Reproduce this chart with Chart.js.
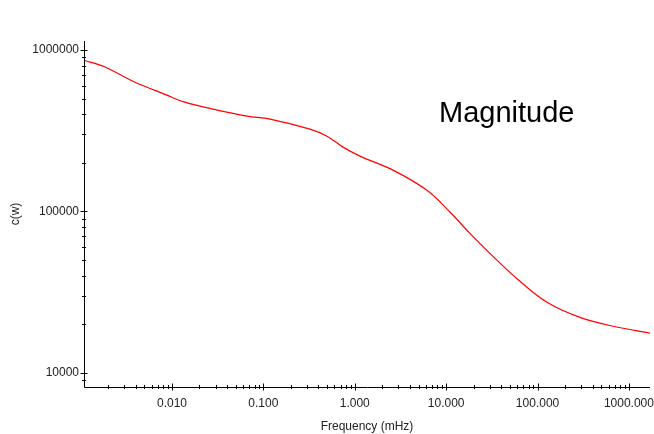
<!DOCTYPE html>
<html>
<head>
<meta charset="utf-8">
<script src="https://cdn.jsdelivr.net/npm/chart.js@4/dist/chart.umd.min.js"></script>
<style>
    html, body { margin: 0; padding: 0; background: #fff; }
    canvas { display: block; }
</style>
</head>
<body>
<canvas id="chart" width="654" height="434"></canvas>
<script>
// frequency in mHz and magnitude c(w)
const frequency = [0.00109, 0.0018, 0.00384, 0.00881, 0.0135, 0.0281, 0.0662, 0.118, 0.324, 0.497, 0.743,
    1.14, 2.62, 6.17, 11.0, 18.2, 30.1, 61.0, 127, 291, 668, 1700];
const magnitude = [861000, 790000, 635000, 525000, 477000, 430000, 389000, 373000, 323000, 292000, 250000,
    220000, 180000, 135000, 99100, 73000, 54900, 37800, 27300, 22000, 19400, 17600];

const xDecades = [0.01, 0.1, 1, 10, 100, 1000];
const yDecades = [10000, 100000, 1000000];

const plotTitle = 'Magnitude';

function isDecade(list, v) {
    return list.some(d => Math.abs(v - d) / d < 1e-6);
}

// minor ticks only at 1..9 x 10^n, not at the axis ends
function isNice(v) {
    const m = v / Math.pow(10, Math.floor(Math.log10(v) + 1e-9));
    return Math.abs(m - Math.round(m)) < 1e-6;
}

// axis lines with ticks crossing them
const axesPlugin = {
    id: 'axes',
    afterDraw(chart) {
        const { ctx, chartArea } = chart;
        const xs = chart.scales.x, ys = chart.scales.y;
        ctx.save();
        ctx.strokeStyle = '#000';
        ctx.lineWidth = 1;
        ctx.beginPath();
        ctx.moveTo(chartArea.left + 0.5, chartArea.top);
        ctx.lineTo(chartArea.left + 0.5, chartArea.bottom + 0.5);
        ctx.lineTo(chartArea.right, chartArea.bottom + 0.5);
        xs.ticks.forEach(t => {
            if (!isNice(t.value)) return;
            const px = Math.round(xs.getPixelForValue(t.value)) + 0.5;
            const len = isDecade(xDecades, t.value) ? 3.5 : 2;
            ctx.moveTo(px, chartArea.bottom - len);
            ctx.lineTo(px, chartArea.bottom + len);
        });
        ys.ticks.forEach(t => {
            if (!isNice(t.value)) return;
            const py = Math.round(ys.getPixelForValue(t.value)) + 0.5;
            const len = isDecade(yDecades, t.value) ? 3.5 : 2;
            ctx.moveTo(chartArea.left - len, py);
            ctx.lineTo(chartArea.left + len, py);
        });
        ctx.stroke();

        ctx.fillStyle = '#000';
        ctx.font = '29px "Liberation Sans", Arial, sans-serif';
        ctx.textAlign = 'left';
        ctx.textBaseline = 'alphabetic';
        ctx.fillText(plotTitle, 439, 122);
        ctx.restore();
    }
};

const font = { family: '"Liberation Sans", Arial, sans-serif', size: 12 };

new Chart(document.getElementById('chart'), {
    type: 'line',
    data: {
        datasets: [{
            label: 'c(w)',
            data: frequency.map((f, i) => ({ x: f, y: magnitude[i] })),
            borderColor: '#ff0000',
            borderWidth: 1.2,
            pointRadius: 0,
            tension: 0.35,
            fill: false
        }]
    },
    options: {
        responsive: false,
        animation: false,
        devicePixelRatio: 1,
        layout: { padding: { left: 0, top: 41, right: 4, bottom: 0 } },
        plugins: {
            legend: { display: false },
            tooltip: { enabled: false }
        },
        scales: {
            x: {
                type: 'logarithmic',
                min: 0.00109,
                max: 1700,
                grid: { display: false, drawTicks: false },
                border: { display: false },
                ticks: {
                    autoSkip: false,
                    maxRotation: 0,
                    padding: 9,
                    color: '#222',
                    font,
                    callback: v => isDecade(xDecades, v) ? v.toFixed(3) : ''
                },
                title: {
                    display: true,
                    text: 'Frequency (mHz)',
                    color: '#222',
                    font,
                    padding: { top: 0, bottom: 0 }
                },
                afterFit: s => {
                    s.height = 47;
                    s.paddingLeft = 0;
                    s.paddingRight = 0;
                }
            },
            y: {
                type: 'logarithmic',
                min: 8150,
                max: 1137000,
                grid: { display: false, drawTicks: false },
                border: { display: false },
                ticks: {
                    autoSkip: false,
                    padding: 5,
                    color: '#222',
                    font,
                    callback: v => isDecade(yDecades, v) ? String(Math.round(v)) : ''
                },
                title: {
                    display: true,
                    text: 'c(w)',
                    color: '#222',
                    font,
                    padding: { top: 8, bottom: 0 }
                },
                afterFit: s => {
                    s.width = 84;
                    s.paddingTop = 0;
                    s.paddingBottom = 0;
                }
            }
        }
    },
    plugins: [axesPlugin]
});
</script>
</body>
</html>
